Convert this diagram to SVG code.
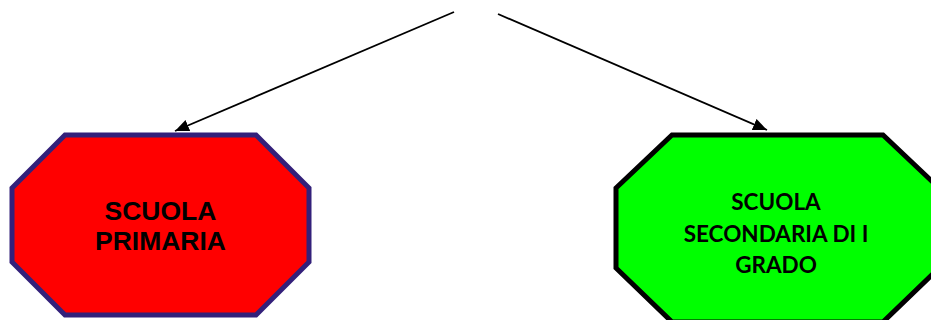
<svg xmlns="http://www.w3.org/2000/svg" width="931" height="320" viewBox="0 0 931 320">
  <style>
    .conn { stroke: #000; stroke-width: 1.8; fill: none; }
    .t1 { font-family: "Liberation Sans", Arial, sans-serif; font-weight: bold; font-size: 26.5px; fill: #000; text-anchor: middle; }
    .t2 { font-family: Lato, "Open Sans", sans-serif; font-weight: bold; font-size: 22.5px; fill: #000; text-anchor: middle; }
  </style>
  <defs>
    <marker id="arr" markerUnits="userSpaceOnUse" markerWidth="14" markerHeight="12" viewBox="0 0 14 12" refX="14" refY="6" orient="auto">
      <path d="M0,0 L14,6 L0,12 Z" fill="#000"/>
    </marker>
  </defs>
  <rect width="931" height="320" fill="#fff"/>
  <g id="connectors">
    <line class="conn" x1="454" y1="12" x2="175" y2="131" marker-end="url(#arr)"/>
    <line class="conn" x1="498" y1="14" x2="767" y2="130" marker-end="url(#arr)"/>
  </g>
  <g id="primaria">
    <polygon points="65,135 256,135 309,188 309,262 256,315 65,315 12,262 12,188" fill="#ff0000" stroke="#33207a" stroke-width="5"/>
    <text class="t1" x="160.5" y="220">SCUOLA</text>
    <text class="t1" x="160.5" y="250">PRIMARIA</text>
  </g>
  <g id="secondaria">
    <polygon points="672,135 883,135 939,188 939,268 883,322 672,322 616,268 616,188" fill="#00ff00" stroke="#000" stroke-width="5"/>
    <text class="t2" x="776" y="210">SCUOLA</text>
    <text class="t2" x="776" y="242">SECONDARIA DI I</text>
    <text class="t2" x="776" y="273">GRADO</text>
  </g>
</svg>
